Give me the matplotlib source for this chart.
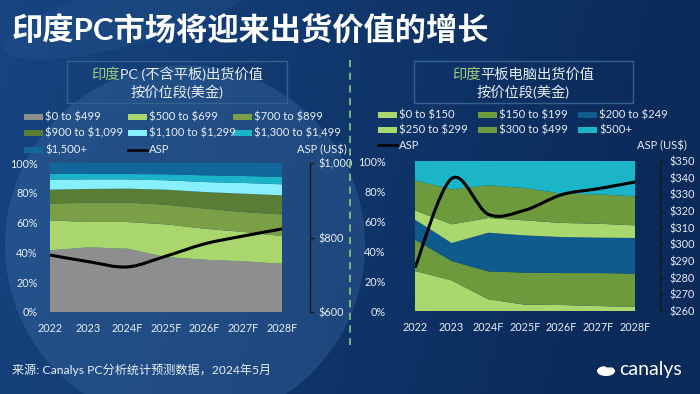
import numpy as np
import matplotlib
matplotlib.use("Agg")
import matplotlib.pyplot as plt
from matplotlib.patches import Rectangle, Circle, Ellipse
from matplotlib.lines import Line2D
from matplotlib.path import Path
from matplotlib.patches import PathPatch
from matplotlib.ticker import FuncFormatter

plt.rcParams['font.family'] = ['Lato', 'Noto Sans CJK SC', 'DejaVu Sans']
plt.rcParams['text.parse_math'] = False

# ---------------- data ----------------
years = ["2022", "2023", "2024F", "2025F", "2026F", "2027F", "2028F"]

pc_labels = ["$0 to $499", "$500 to $699", "$700 to $899", "$900 to $1,099",
             "$1,100 to $1,299", "$1,300 to $1,499", "$1,500+"]
pc_0_499 = [41.4, 43.4, 42.5, 36.9, 35.1, 34.0, 32.4]
pc_500_699 = [20.1, 17.0, 17.9, 21.9, 20.8, 19.7, 18.6]
pc_700_899 = [11.2, 13.0, 13.0, 13.2, 13.5, 13.4, 14.5]
pc_900_1099 = [9.4, 9.2, 9.4, 10.1, 11.1, 12.3, 12.8]
pc_1100_1299 = [6.7, 6.4, 6.2, 6.3, 6.7, 7.2, 7.4]
pc_1300_1499 = [4.0, 3.6, 3.6, 4.0, 4.5, 4.7, 4.9]
pc_1500_plus = [7.2, 7.4, 7.4, 7.6, 8.3, 8.7, 9.4]
pc_asp = [753, 735, 721, 750, 783, 804, 823]

tab_labels = ["$0 to $150", "$150 to $199", "$200 to $249",
              "$250 to $299", "$300 to $499", "$500+"]
tab_0_150 = [26.7, 20.4, 7.8, 4.2, 4.0, 3.3, 2.7]
tab_150_199 = [20.9, 12.9, 18.6, 21.4, 21.3, 22.0, 22.2]
tab_200_249 = [13.3, 12.0, 25.8, 24.8, 24.0, 23.6, 23.8]
tab_250_299 = [6.2, 12.5, 9.8, 10.0, 9.4, 9.3, 8.4]
tab_300_499 = [20.0, 23.3, 21.8, 21.6, 19.5, 19.6, 19.3]
tab_500_plus = [12.9, 18.9, 16.2, 18.0, 21.8, 22.2, 23.6]
tab_asp = [286, 339.5, 318, 320.5, 329.8, 333.4, 337.4]

pc_colors = ['#8e8e8e', '#aad66e', '#7a9f47', '#5a7d35', '#88efff', '#1cb3c8', '#12679a']
tab_colors = ['#a8d86e', '#6e9a3e', '#105b8d', '#a8d86e', '#6e9a3e', '#1cb5c8']

TXT = '#e8eef4'
W, H = 700, 394

def fx(px):
    return px / W

def fy(py):
    return 1 - py / H

fig = plt.figure(figsize=(7, 3.94), dpi=100)

# ---------------- background ----------------
bg = fig.add_axes([0, 0, 1, 1], zorder=-10)
bg.set_xlim(0, W)
bg.set_ylim(H, 0)
bg.axis('off')
xx = np.linspace(0, 1, 200)
yy = np.linspace(0, 1, 120)
X, Y = np.meshgrid(xx, yy)
c_left = np.array([0x17, 0x45, 0x80]) / 255
c_right = np.array([0x0a, 0x2a, 0x5a]) / 255
t = np.clip(X * 1.0 + Y * 0.15, 0, 1)[..., None]
img = c_left * (1 - t) + c_right * t
bg.imshow(img, extent=[0, W, H, 0], aspect='auto', zorder=0)
bg.add_patch(Circle((185, 245), 180, facecolor='#4a7bb5', alpha=0.28, edgecolor='none', zorder=1))
bg.add_patch(Ellipse((130, 15), 260, 60, angle=-15, facecolor='#4a7bb5', alpha=0.12, edgecolor='none', zorder=1))


def smooth_line(ax, xs, ys, **kw):
    xs = np.asarray(xs, float)
    ys = np.asarray(ys, float)
    P = np.column_stack([xs, ys])
    n = len(P)
    verts = [P[0]]
    codes = [Path.MOVETO]
    for i in range(n - 1):
        p0 = P[i - 1] if i > 0 else P[i]
        p1 = P[i]
        p2 = P[i + 1]
        p3 = P[i + 2] if i + 2 < n else P[i + 1]
        c1 = p1 + (p2 - p0) / 6.0
        c2 = p2 - (p3 - p1) / 6.0
        verts += [c1, c2, p2]
        codes += [Path.CURVE4] * 3
    ax.add_patch(PathPatch(Path(verts, codes), facecolor='none', **kw))


def make_panel(rect, series, colors, asp, asp_lim, asp_ticks, asp_fmt, ylab_pad, spine_out):
    ax = fig.add_axes(rect)
    x = np.arange(len(years))
    ax.stackplot(x, *series, colors=colors, linewidth=0)
    ax.set_xlim(0, len(years) - 1)
    ax.set_ylim(0, 100)
    ax.set_facecolor('none')
    for s in ax.spines.values():
        s.set_visible(False)
    ax.set_xticks(x)
    ax.set_xticklabels(years)
    ax.set_yticks(np.arange(0, 101, 20))
    ax.yaxis.set_major_formatter(FuncFormatter(lambda v, p: f"{int(v)}%"))
    ax.tick_params(axis='both', length=0, colors=TXT, labelsize=7.8)
    ax.tick_params(axis='y', pad=ylab_pad)
    ax.tick_params(axis='x', pad=8)
    ax2 = ax.twinx()
    ax2.set_ylim(*asp_lim)
    ax2.set_yticks(asp_ticks)
    ax2.yaxis.set_major_formatter(FuncFormatter(asp_fmt))
    for k in ['top', 'bottom', 'left']:
        ax2.spines[k].set_visible(False)
    ax2.spines['right'].set_position(('outward', spine_out))
    ax2.spines['right'].set_color('#1a1a1a')
    ax2.spines['right'].set_linewidth(1.0)
    ax2.tick_params(axis='y', length=3, width=1.0, color='#1a1a1a', labelcolor=TXT,
                    labelsize=7.8, pad=3.5)
    smooth_line(ax2, x, asp, edgecolor='black', linewidth=2.2, zorder=5)
    return ax, ax2


make_panel([fx(50), fy(312), fx(282) - fx(50), fy(163) - fy(312)],
           [pc_0_499, pc_500_699, pc_700_899, pc_900_1099, pc_1100_1299, pc_1300_1499, pc_1500_plus],
           pc_colors, pc_asp, (600, 1000), [600, 800, 1000],
           lambda v, p: f"${int(v):,}", 9, 20)

make_panel([fx(415), fy(311), fx(635) - fx(415), fy(161) - fy(311)],
           [tab_0_150, tab_150_199, tab_200_249, tab_250_299, tab_300_499, tab_500_plus],
           tab_colors, tab_asp, (260, 350), list(range(260, 351, 10)),
           lambda v, p: f"${int(v)}", 21, 18)

# ---------------- legends (manual) ----------------
def legend_item(px, py, label, color=None, line=False):
    if line:
        fig.add_artist(Line2D([fx(px), fx(px + 19)], [fy(py), fy(py)], color='black', lw=1.8))
    else:
        fig.add_artist(Rectangle((fx(px), fy(py + 3)), fx(19), 6 / H, facecolor=color,
                                 edgecolor='none', transform=fig.transFigure))
    fig.text(fx(px + 21), fy(py), label, color=TXT, fontsize=8.1, va='center', ha='left')

lc = [24, 128, 233]
lr = [117, 133, 150]
for i, (lab, col) in enumerate(zip(pc_labels, pc_colors)):
    legend_item(lc[i % 3], lr[i // 3], lab, col)
legend_item(lc[1], lr[2], "ASP", line=True)

rc = [378, 478, 578]
rr = [115, 130, 145]
for i, (lab, col) in enumerate(zip(tab_labels, tab_colors)):
    legend_item(rc[i % 3], rr[i // 3], lab, col)
legend_item(rc[0], rr[2], "ASP", line=True)

fig.text(fx(347), fy(150), "ASP (US$)", color=TXT, fontsize=8.0, ha='right', va='center')
fig.text(fx(687), fy(146), "ASP (US$)", color=TXT, fontsize=8.0, ha='right', va='center')

# ---------------- subtitle boxes ----------------
for (x0, x1) in [(67, 287), (414, 633)]:
    fig.add_artist(Rectangle((fx(x0), fy(103)), fx(x1 - x0), (103 - 61) / H,
                             facecolor='none', edgecolor='#34628f', lw=1.0,
                             transform=fig.transFigure))

fig.canvas.draw()
renderer = fig.canvas.get_renderer()

def multicolor(xc, py, parts, size):
    ts = []
    for s, c in parts:
        ts.append(fig.text(0, fy(py), s, color=c, fontsize=size, va='center', ha='left'))
    widths = [tt.get_window_extent(renderer).width for tt in ts]
    x = xc - sum(widths) / 2
    for tt, w in zip(ts, widths):
        tt.set_x(fx(x))
        x += w

GREEN = '#9fcf7c'
multicolor(177, 74, [("印度", GREEN), ("PC (不含平板)出货价值", TXT)], 10.3)
multicolor(177, 92, [("按价位段(美金)", TXT)], 10.3)
multicolor(523, 74, [("印度", GREEN), ("平板电脑出货价值", TXT)], 10.3)
multicolor(523, 92, [("按价位段(美金)", TXT)], 10.3)

# ---------------- title, divider, footer ----------------
fig.text(fx(12), fy(30), "印度PC市场将迎来出货价值的增长", color='white', fontsize=22.5,
         fontweight='bold', va='center', ha='left')

fig.add_artist(Line2D([fx(350.5), fx(350.5)], [fy(60), fy(345)], color='#7cc27a',
                      lw=1.3, linestyle=(0, (4, 3))))

fig.text(fx(12), fy(370), "来源: Canalys PC分析统计预测数据，2024年5月", color=TXT,
         fontsize=8.7, va='center', ha='left')

# canalys logo
fig.add_artist(Circle((fx(606), fy(371)), 9 / W, facecolor='white', edgecolor='none',
                      transform=fig.transFigure))
fig.add_artist(Ellipse((fx(610), fy(364)), 14 / W, 7 / H, angle=20, facecolor='#0b2c5c',
                       edgecolor='none', transform=fig.transFigure))
fig.text(fx(619), fy(369), "canalys", color='white', fontsize=14, va='center', ha='left')

fig.savefig("out.png", dpi=100)
